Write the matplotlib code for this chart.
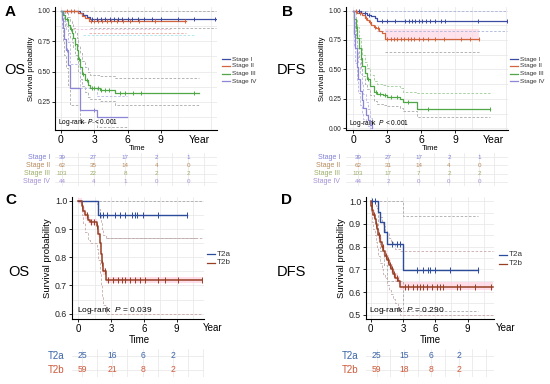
import numpy as np
import matplotlib
matplotlib.use('Agg')
import matplotlib.pyplot as plt
from matplotlib.lines import Line2D
from matplotlib.transforms import blended_transform_factory

plt.rcParams['font.family'] = ['Liberation Sans', 'DejaVu Sans']
plt.rcParams['mathtext.fontset'] = 'custom'
plt.rcParams['mathtext.it'] = 'Liberation Sans:italic'
plt.rcParams['mathtext.rm'] = 'Liberation Sans'

# ---------------- data: panel A (OS by stage) ----------------
a_t1 = [0, 1.7, 2.0, 2.3, 2.6, 14.0]
a_s1 = [1.0, 0.98, 0.965, 0.95, 0.935, 0.935]
a_c1 = [2.8, 3.2, 3.6, 4.0, 4.4, 4.8, 5.1, 5.5, 6.0, 6.4, 6.9, 7.5, 8.2, 9.0, 10.5, 12.0, 13.9]
a_t2 = [0, 1.5, 1.9, 2.2, 2.5, 11.3]
a_s2 = [1.0, 0.98, 0.96, 0.94, 0.92, 0.92]
a_c2 = [0.5, 0.9, 1.2, 2.7, 3.0, 3.3, 3.7, 4.1, 4.5, 5.0, 5.6, 6.2, 7.0, 8.5, 11.2]
a_t3 = [0, 0.2, 0.4, 0.66, 0.8, 0.96, 1.1, 1.25, 1.41, 1.55, 1.71, 1.9, 2.16, 2.4, 2.6, 3.5, 4.86, 12.4]
a_s3 = [1.0, 0.97, 0.93, 0.885, 0.85, 0.815, 0.78, 0.73, 0.68, 0.6, 0.54, 0.48, 0.43, 0.39, 0.36, 0.347, 0.32, 0.32]
a_up3 = [1.0, 1.0, 0.98, 0.95, 0.92, 0.89, 0.86, 0.82, 0.78, 0.71, 0.65, 0.59, 0.54, 0.5, 0.47, 0.46, 0.45, 0.45]
a_lo3 = [1.0, 0.94, 0.88, 0.82, 0.78, 0.74, 0.7, 0.64, 0.59, 0.5, 0.44, 0.38, 0.33, 0.29, 0.27, 0.26, 0.22, 0.22]
a_c3 = [0.5, 0.9, 1.3, 1.6, 2.0, 2.3, 2.8, 3.0, 3.3, 3.6, 4.0, 4.3, 5.3, 5.8, 6.5, 7.2, 12.0]
a_t4 = [0, 0.1, 0.2, 0.3, 0.45, 0.6, 0.8, 1.75, 3.2, 5.95]
a_s4 = [1.0, 0.93, 0.86, 0.77, 0.68, 0.55, 0.36, 0.18, 0.125, 0.125]
a_up4 = [1.0, 1.0, 0.98, 0.92, 0.85, 0.74, 0.56, 0.36, 0.3, 0.3]
a_lo4 = [1.0, 0.86, 0.75, 0.64, 0.53, 0.39, 0.22, 0.08, 0.04, 0.04]
a_c4 = [0.5, 3.0]
a_lo1 = 0.863
a_lo2 = 0.82

# ---------------- data: panel B (DFS by stage) ----------------
b_t1 = [0, 0.7, 1.2, 1.6, 1.9, 2.1, 13.6]
b_s1 = [1.0, 0.98, 0.965, 0.95, 0.935, 0.915, 0.915]
b_c1 = [0.5, 1.0, 1.4, 2.5, 3.0, 3.7, 4.6, 4.9, 5.2, 5.5, 5.8, 6.1, 6.4, 6.8, 7.2, 7.8, 8.1, 11.0, 13.6]
b_t2 = [0, 0.3, 0.8, 1.0, 1.2, 1.4, 1.6, 1.8, 2.0, 2.3, 2.5, 2.8, 11.1]
b_s2 = [1.0, 0.98, 0.96, 0.94, 0.92, 0.9, 0.88, 0.86, 0.85, 0.83, 0.81, 0.755, 0.755]
b_c2 = [0.2, 0.6, 1.1, 1.5, 1.9, 2.2, 3.0, 3.3, 3.6, 3.9, 4.2, 4.5, 4.8, 5.1, 5.4, 5.8, 6.2, 6.6, 7.2, 8.0, 9.5, 10.3, 11.1]
b_t3 = [0, 0.1, 0.2, 0.35, 0.5, 0.65, 0.8, 1.0, 1.2, 1.5, 1.8, 2.1, 2.6, 3.0, 4.1, 4.4, 5.6, 12.1]
b_s3 = [1.0, 0.93, 0.85, 0.77, 0.68, 0.6, 0.53, 0.47, 0.42, 0.36, 0.31, 0.29, 0.28, 0.265, 0.245, 0.22, 0.16, 0.16]
b_up3 = [1.0, 1.0, 0.93, 0.86, 0.77, 0.69, 0.62, 0.56, 0.51, 0.45, 0.4, 0.38, 0.37, 0.36, 0.34, 0.31, 0.3, 0.3]
b_lo3 = [1.0, 0.87, 0.77, 0.68, 0.59, 0.51, 0.44, 0.38, 0.33, 0.28, 0.23, 0.21, 0.2, 0.19, 0.17, 0.15, 0.095, 0.095]
b_c3 = [0.3, 0.7, 1.3, 2.0, 2.4, 2.8, 3.3, 3.9, 4.8, 6.6, 12.1]
b_t4 = [0, 0.05, 0.15, 0.3, 0.45, 0.6, 0.75, 0.9, 1.1, 1.3, 1.5, 1.65]
b_s4 = [1.0, 0.8, 0.68, 0.52, 0.42, 0.32, 0.24, 0.17, 0.11, 0.07, 0.03, 0.0]
b_up4 = [1.0, 0.9, 0.8, 0.66, 0.56, 0.46, 0.37, 0.29, 0.22, 0.16, 0.09, 0.0]
b_lo4 = [1.0, 0.7, 0.55, 0.4, 0.3, 0.2, 0.13, 0.08, 0.04, 0.02, 0.0, 0.0]
b_lo1 = 0.823
b_up2 = 0.84
b_lo2 = 0.645

# ---------------- data: panel C (OS by T stage) ----------------
c_t1 = [0, 1.83, 9.9]
c_s1 = [1.0, 0.951, 0.951]
c_c1 = [1.98, 2.29, 2.6, 3.36, 3.8, 4.27, 4.88, 5.19, 5.34, 5.95, 7.3, 9.9]
c_t2 = [0, 0.3, 0.45, 0.6, 0.85, 1.07, 1.68, 1.83, 1.98, 2.05, 2.14, 2.29, 2.5, 11.3]
c_s2 = [1.0, 0.983, 0.966, 0.949, 0.932, 0.925, 0.91, 0.884, 0.85, 0.81, 0.78, 0.75, 0.719, 0.719]
c_up2 = [1.0, 1.0, 1.0, 1.0, 1.0, 1.0, 0.99, 0.97, 0.95, 0.92, 0.9, 0.88, 0.87, 0.87]
c_lo2 = [1.0, 0.95, 0.92, 0.89, 0.86, 0.85, 0.83, 0.79, 0.74, 0.7, 0.66, 0.63, 0.6, 0.6]
c_c2 = [0.3, 0.75, 1.2, 1.4, 1.7, 2.2, 2.4, 2.75, 3.2, 3.66, 3.97, 4.27, 4.73, 5.19, 5.64, 6.1, 7.3, 7.9, 9.1, 11.3]
c_lo1 = 0.87

# ---------------- data: panel D (DFS by T stage) ----------------
d_t1 = [0, 0.71, 0.86, 1.2, 1.48, 3.03, 10.0]
d_s1 = [1.0, 0.953, 0.909, 0.865, 0.813, 0.696, 0.696]
d_up1 = [1.0, 1.0, 1.0, 1.0, 1.0, 0.935, 0.935]
d_lo1 = [1.0, 0.85, 0.78, 0.72, 0.65, 0.515, 0.515]
d_c1 = [0.1, 0.4, 1.95, 2.41, 2.72, 4.27, 4.88, 5.35, 5.5, 5.97, 7.36, 10.0]
d_t2 = [0, 0.05, 0.15, 0.25, 0.35, 0.45, 0.55, 0.7, 0.85, 1.0, 1.15, 1.3, 1.5, 1.7, 1.9, 2.1, 2.3, 2.5, 2.72, 11.4]
d_s2 = [1.0, 0.98, 0.96, 0.94, 0.92, 0.9, 0.88, 0.85, 0.82, 0.8, 0.78, 0.76, 0.74, 0.72, 0.7, 0.68, 0.66, 0.65, 0.622, 0.622]
d_up2 = [1.0, 1.0, 1.0, 1.0, 0.99, 0.98, 0.97, 0.95, 0.93, 0.91, 0.89, 0.87, 0.86, 0.84, 0.82, 0.81, 0.79, 0.79, 0.78, 0.78]
d_lo2 = [1.0, 0.95, 0.91, 0.88, 0.85, 0.82, 0.8, 0.76, 0.73, 0.7, 0.68, 0.66, 0.63, 0.61, 0.59, 0.57, 0.55, 0.53, 0.5, 0.5]
d_c2 = [0.1, 0.3, 0.5, 0.8, 1.1, 1.4, 1.6, 1.8, 2.0, 2.2, 2.4, 3.18, 3.49, 3.96, 4.27, 4.58, 4.88, 5.2, 5.66,
        6.13, 6.44, 6.74, 7.98, 8.3, 9.7, 11.2]

# ---------------- risk tables ----------------
stage_names = ['Stage I', 'Stage II', 'Stage III', 'Stage IV']
t_names = ['T2a', 'T2b']
risk_times = [0, 3, 6, 9, 12]
risk_a = [[39, 27, 17, 2, 1], [62, 35, 14, 4, 0], [103, 22, 8, 2, 2], [44, 4, 1, 0, 0]]
risk_b = [[39, 27, 17, 2, 1], [62, 31, 14, 4, 0], [103, 17, 7, 2, 2], [44, 2, 0, 0, 0]]
risk_times_t = [0, 3, 6, 9]
risk_c = [[25, 16, 6, 2], [59, 21, 8, 2]]
risk_d = [[25, 15, 6, 2], [59, 18, 8, 2]]

# colours
stage_cols = ['#3B4BA0', '#D4643C', '#4FA746', '#8C86D6']
stage_ci = ['#A9B4D8', '#EBA8A0', '#9CCB96', '#B8B4E6']
stage_risk = ['#7F7FD8', '#B88A5C', '#9CAD68', '#A48FD6']
t_cols = ['#2B4B9B', '#963F22']
t_risk = ['#3A64A8', '#D0583A']
ci_grey = '#A8A8A8'
grid_col = '#E6E6E6'

W, H = 550, 384
fig = plt.figure(figsize=(5.5, 3.84), dpi=100)


def px_axes(x0, y0, x1, y1):
    return fig.add_axes([x0 / W, 1 - y1 / H, (x1 - x0) / W, (y1 - y0) / H])


def ftext(x, y, s, **kw):
    fig.text(x / W, 1 - y / H, s, **kw)


def at(t, s, times):
    idx = np.searchsorted(t, times, side='right') - 1
    return np.asarray(s)[idx]


def km(ax, t, s, col, cens, ms=3.5, lw=0.9):
    ax.step(t, s, where='post', color=col, lw=lw, zorder=4)
    ax.plot(cens, at(t, s, cens), ls='none', marker='|', ms=ms, mew=0.7, color=col, zorder=5)


def ci(ax, t, v, col):
    ax.step(t, v, where='post', color=col, lw=0.6, ls=(0, (3, 2)), zorder=3)


def setup(ax, xlim, ylim, yticks, yfmt, ysize, xsize, yminor):
    ax.set_xlim(*xlim)
    ax.set_ylim(*ylim)
    ax.set_xticks([0, 3, 6, 9])
    ax.set_xticks(np.arange(1.5, xlim[1], 3), minor=True)
    ax.set_yticks(yticks)
    ax.set_yticks(yminor, minor=True)
    ax.set_yticklabels([yfmt % v for v in yticks], fontsize=ysize, color='#222222')
    ax.tick_params(axis='x', labelsize=xsize, length=2, width=0.6, pad=1.5)
    ax.tick_params(axis='y', length=2, width=0.6, pad=1.5)
    ax.tick_params(which='minor', length=0)
    ax.grid(which='both', color=grid_col, lw=0.5)
    ax.set_axisbelow(True)
    for sp in ['top', 'right']:
        ax.spines[sp].set_visible(False)
    for sp in ['left', 'bottom']:
        ax.spines[sp].set_linewidth(0.8)


def year(ax, x, dy, size):
    tr = blended_transform_factory(ax.transData, ax.transAxes)
    ax.text(x, dy, 'Year', transform=tr, ha='center', va='center', fontsize=size, clip_on=False)


def risk_axes(box, xlim, nrows):
    ax = px_axes(*box)
    ax.set_xlim(*xlim)
    ax.set_ylim(-0.5, nrows - 0.5)
    for xv in np.arange(0, xlim[1], 1.5):
        ax.axvline(xv, color=grid_col, lw=0.5, zorder=0)
    for r in range(nrows):
        ax.axhline(r, color=grid_col, lw=0.5, zorder=0)
    ax.axis('off')
    return ax


def legend(x0, ys, names, cols, size):
    for y, n, c in zip(ys, names, cols):
        fig.add_artist(Line2D([x0 / W, (x0 + 8) / W], [1 - y / H, 1 - y / H], color=c, lw=0.9))
        ftext(x0 + 10, y, n, fontsize=size, va='center', ha='left', color='#333333')


# ================= Panel A =================
axA = px_axes(55, 7, 217, 130)
setup(axA, (-0.54, 14.05), (0.017, 1.033), [0.25, 0.5, 0.75, 1.0], '%.2f', 4.8, 7.5,
      [0.125, 0.375, 0.625, 0.875])
ci(axA, [0, 14.0], [1.0, 1.0], ci_grey)
ci(axA, [2.6, 14.0], [a_lo1, a_lo1], ci_grey)
ci(axA, [2.5, 11.3], [a_lo2, a_lo2], stage_ci[1])
ci(axA, [2.0, 12.0], [0.8, 0.8], '#A8E4EC')
ci(axA, [1.0, 10.0], [0.85, 0.85], '#F4C0DC')
ci(axA, a_t3, a_up3, ci_grey)
ci(axA, a_t3, a_lo3, ci_grey)
ci(axA, a_t4, a_up4, stage_ci[3])
ci(axA, a_t4, a_lo4, ci_grey)
km(axA, a_t1, a_s1, stage_cols[0], a_c1, 3)
km(axA, a_t2, a_s2, stage_cols[1], a_c2, 3)
km(axA, a_t3, a_s3, stage_cols[2], a_c3, 3)
km(axA, a_t4, a_s4, stage_cols[3], a_c4, 3)
axA.set_ylabel('Survival probability', fontsize=5.5, labelpad=1.5)
axA.text(0.02, 0.06, 'Log-rank  $\\it{P}$ < 0.001', transform=axA.transAxes, fontsize=4.8, va='center')
year(axA, 12.5, -10 / 123, 7.5)
ftext(137, 148, 'Time', fontsize=5.5, ha='center', va='center')
legend(222, [59, 66, 73.5, 81], stage_names, stage_cols, 4.6)

rA = risk_axes((55, 153, 217, 186), (-0.67, 14.76), 4)
for i, row in enumerate(risk_a):
    for tm, n in zip(risk_times, row):
        rA.text(tm, 3 - i, str(n), ha='center', va='center', fontsize=4.5, color=stage_risk[i])
    ftext(50, 157 + i * 8.25, stage_names[i], ha='right', va='center', fontsize=5, color=stage_risk[i])

ftext(5, 12, 'A', fontsize=11, fontweight='bold', va='center')
ftext(4, 70, 'OS', fontsize=10.5, va='center')

# ================= Panel B =================
axB = px_axes(346, 7, 508, 130)
setup(axB, (-0.65, 13.7), (-0.015, 1.03), [0.0, 0.25, 0.5, 0.75, 1.0], '%.2f', 4.8, 7.5,
      [0.125, 0.375, 0.625, 0.875])
axB.fill_between([2.8, 11.1], [0.755, 0.755], [b_up2, b_up2], color='#FFD6E4', alpha=0.7, lw=0, zorder=1)
ci(axB, [0, 13.6], [1.0, 1.0], stage_ci[0])
ci(axB, [2.1, 13.6], [b_lo1, b_lo1], stage_ci[0])
ci(axB, [2.8, 11.1], [b_lo2, b_lo2], ci_grey)
ci(axB, b_t3, b_up3, stage_ci[2])
ci(axB, b_t3, b_lo3, ci_grey)
ci(axB, b_t4, b_up4, stage_ci[3])
ci(axB, b_t4, b_lo4, stage_ci[3])
km(axB, b_t1, b_s1, stage_cols[0], b_c1, 3)
km(axB, b_t2, b_s2, stage_cols[1], b_c2, 3)
km(axB, b_t3, b_s3, stage_cols[2], b_c3, 3)
km(axB, b_t4, b_s4, stage_cols[3], [], 3)
axB.set_ylabel('Survival probability', fontsize=5.5, labelpad=1.5)
axB.text(0.02, 0.05, 'Log-rank  $\\it{P}$ < 0.001', transform=axB.transAxes, fontsize=4.8, va='center')
year(axB, 12.4, -10 / 123, 7.5)
ftext(430, 148, 'Time', fontsize=5.5, ha='center', va='center')
legend(510, [59, 66, 73.5, 81], stage_names, stage_cols, 4.6)

rB = risk_axes((346, 153, 508, 186), (-1.19, 14.85), 4)
for i, row in enumerate(risk_b):
    for tm, n in zip(risk_times, row):
        rB.text(tm, 3 - i, str(n), ha='center', va='center', fontsize=4.5, color=stage_risk[i])
    ftext(340, 157 + i * 8.25, stage_names[i], ha='right', va='center', fontsize=5, color=stage_risk[i])

ftext(282, 12, 'B', fontsize=11, fontweight='bold', va='center')
ftext(277, 70, 'DFS', fontsize=10.5, va='center')

# ================= Panel C =================
axC = px_axes(72, 197, 204, 319)
setup(axC, (-0.58, 11.5), (0.581, 1.014), [0.6, 0.7, 0.8, 0.9, 1.0], '%.1f', 6.3, 7,
      [0.65, 0.75, 0.85, 0.95])
axC.fill_between(c_t2, np.array(c_s2) - 0.012, np.array(c_s2) + 0.012, step='post',
                 color='#FFD0E0', alpha=0.7, lw=0, zorder=1)
ci(axC, [0, 11.3], [1.0, 1.0], ci_grey)
ci(axC, [2.5, 10.8], [c_lo1, c_lo1], ci_grey)
ci(axC, c_t2, c_up2, '#C8A8A8')
ci(axC, c_t2, c_lo2, '#C8A8A8')
km(axC, c_t1, c_s1, t_cols[0], c_c1, 4, 1.0)
km(axC, c_t2, c_s2, t_cols[1], c_c2, 4, 1.1)
axC.set_ylabel('Survival probability', fontsize=6.8, labelpad=2)
axC.text(0.04, 0.07, 'Log-rank  $\\it{P}$ = 0.039', transform=axC.transAxes, fontsize=6, va='center')
year(axC, 12.3, -9 / 122, 7)
ftext(139, 340, 'Time', fontsize=7, ha='center', va='center')
legend(207, [254, 263], t_names, t_cols, 5.8)

rC = risk_axes((72, 349, 204, 377), (-0.99, 12.08), 2)
for i, row in enumerate(risk_c):
    for tm, n in zip(risk_times_t, row):
        rC.text(tm, 1 - i, str(n), ha='center', va='center', fontsize=6.2, color=t_risk[i])
    ftext(48, 356 + i * 14, t_names[i], ha='left', va='center', fontsize=7, color=t_risk[i])

ftext(5, 200, 'C', fontsize=11, fontweight='bold', va='center')
ftext(8, 272, 'OS', fontsize=10.5, va='center')

# ================= Panel D =================
axD = px_axes(366, 197, 494, 319)
setup(axD, (-0.44, 11.45), (0.481, 1.019), [0.5, 0.6, 0.7, 0.8, 0.9, 1.0], '%.1f', 6.3, 7,
      [0.55, 0.65, 0.75, 0.85, 0.95])
axD.fill_between(d_t2, np.array(d_s2) - 0.015, np.array(d_s2) + 0.022, step='post',
                 color='#FFD0E0', alpha=0.7, lw=0, zorder=1)
ci(axD, d_t1, d_up1, ci_grey)
ci(axD, d_t1, d_lo1, ci_grey)
ci(axD, d_t2, d_up2, '#C8A8A8')
ci(axD, d_t2, d_lo2, '#C8A8A8')
km(axD, d_t1, d_s1, t_cols[0], d_c1, 4, 1.0)
km(axD, d_t2, d_s2, t_cols[1], d_c2, 4, 1.1)
axD.set_ylabel('Survival probability', fontsize=6.8, labelpad=2)
axD.text(0.02, 0.07, 'Log-rank  $\\it{P}$ = 0.290', transform=axD.transAxes, fontsize=6, va='center')
year(axD, 12.5, -9 / 122, 7)
ftext(430, 340, 'Time', fontsize=7, ha='center', va='center')
legend(499, [255, 263.5], t_names, t_cols, 5.8)

rD = risk_axes((366, 349, 494, 377), (-1.18, 12.9), 2)
for i, row in enumerate(risk_d):
    for tm, n in zip(risk_times_t, row):
        rD.text(tm, 1 - i, str(n), ha='center', va='center', fontsize=6.2, color=t_risk[i])
    ftext(342, 356 + i * 14, t_names[i], ha='left', va='center', fontsize=7, color=t_risk[i])

ftext(281, 200, 'D', fontsize=11, fontweight='bold', va='center')
ftext(277, 272, 'DFS', fontsize=10.5, va='center')

fig.savefig('out.png', dpi=100, facecolor='white')
